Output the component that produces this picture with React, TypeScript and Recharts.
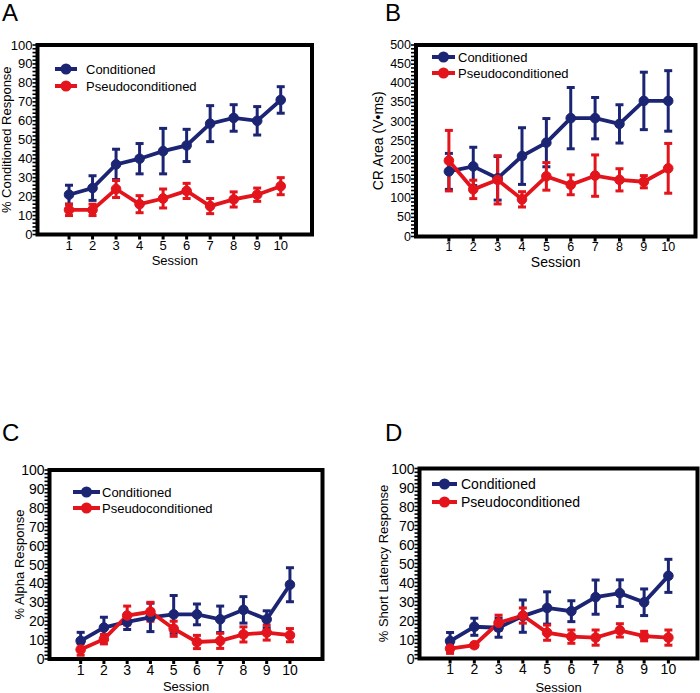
import React from "react";
import {
  LineChart,
  Line,
  XAxis,
  YAxis,
  ErrorBar,
  ReferenceArea,
  Legend,
} from "recharts";

const FONT = "'Liberation Sans', Arial, sans-serif";
const NAVY = "#1b2573";
const RED = "#e3141c";

const sessions = [1, 2, 3, 4, 5, 6, 7, 8, 9, 10];

// A - % conditioned response
const aConditioned = [21, 24.5, 37, 40, 44, 47, 58.5, 61.5, 60, 71];
const aConditionedErr = [5, 6.5, 8, 8, 12, 8.5, 9.5, 7, 7.5, 7];
const aPseudo = [13, 13, 24, 16, 19, 23, 15, 18.5, 21, 25.5];
const aPseudoErr = [3, 3, 4.5, 4.5, 5, 4, 4, 4, 3.5, 4.5];

// B - CR area
const bConditioned = [170, 183, 152, 210, 245, 309, 309, 294, 354, 354];
const bConditionedErr = [47, 50, 57, 74, 63, 80, 54, 50, 75, 79];
const bPseudo = [198, 123, 148, 97, 157, 135, 159, 148, 143, 178];
const bPseudoErr = [79, 24, 63, 20, 36, 26, 54, 29, 16, 65];

// C - % alpha response
const cConditioned = [9.6, 16.6, 19.6, 22, 23.6, 23.6, 21, 26, 21, 39.3];
const cConditionedErr = [4.5, 5.5, 4, 7.5, 10, 5.5, 7, 7, 4.5, 9];
const cPseudo = [5, 10.5, 23, 25, 16, 9, 9.6, 13, 14, 12.6];
const cPseudoErr = [3, 2.5, 5, 5, 4, 3.5, 4, 4, 4, 3.5];

// D - % short latency response
const dConditioned = [9.2, 16.7, 16.2, 22.3, 26.6, 24.9, 32.3, 34.4, 29.6, 43.5];
const dConditionedErr = [4.5, 4.5, 5, 8.5, 8.5, 5.5, 9, 7, 7, 8.7];
const dPseudo = [5.2, 7, 18.8, 22.6, 13.6, 11.5, 11, 14.8, 11.8, 11];
const dPseudoErr = [2.5, 1, 4, 4, 4, 3.5, 4, 3.5, 2.5, 4];

const percentTicks = [0, 10, 20, 30, 40, 50, 60, 70, 80, 90, 100];
const areaTicks = [0, 50, 100, 150, 200, 250, 300, 350, 400, 450, 500];

// major ticks plus 4 minor ticks between each pair
const withMinor = (major: number[]) => {
  const out: number[] = [];
  for (let i = 0; i < major.length; i++) {
    out.push(major[i]);
    if (i < major.length - 1) {
      const step = (major[i + 1] - major[i]) / 5;
      for (let k = 1; k < 5; k++) out.push(major[i] + step * k);
    }
  }
  return out;
};

const buildData = (c: number[], ce: number[], p: number[], pe: number[]) =>
  sessions.map((s, i) => ({ session: s, cond: c[i], condErr: ce[i], pseudo: p[i], pseudoErr: pe[i] }));

const YTick = (props: any) => {
  const { x, y, payload, majors, fontSize } = props;
  const isMajor = majors.includes(payload.value);
  return (
    <g>
      <line x1={x - 5} x2={x} y1={y} y2={y} stroke="#000" strokeWidth={1.6} />
      {isMajor && (
        <text x={x - 5} y={y} textAnchor="end" dominantBaseline="central" fontSize={fontSize} fontFamily={FONT} fill="#000">
          {payload.value}
        </text>
      )}
    </g>
  );
};

type PanelProps = {
  letter: string;
  pos: { left: number; top: number; width: number; height: number };
  margin: { top: number; right: number; bottom: number; left: number };
  yWidth: number;
  xDomain: [number, number];
  majors: number[];
  yLabel: string;
  yLabelOffset: number;
  sessionOffset: number;
  tickFont: number;
  labelFont: number;
  legend: { left: number; top: number; iconW: number; textX: number; gap: number; font: number };
  data: any[];
};

const Panel = (p: PanelProps) => {
  const yMax = p.majors[p.majors.length - 1];
  const lg = p.legend;
  return (
    <div style={{ position: "absolute", left: p.pos.left, top: p.pos.top }}>
      <LineChart width={p.pos.width} height={p.pos.height} data={p.data} margin={p.margin}>
        <XAxis
          type="number"
          dataKey="session"
          domain={p.xDomain}
          allowDataOverflow
          ticks={sessions}
          interval={0}
          axisLine={false}
          tickLine={{ stroke: "#000", strokeWidth: 3 }}
          tickSize={5}
          tickMargin={1}
          height={30}
          tick={{ fill: "#000", fontSize: p.tickFont, fontFamily: FONT }}
          label={(lp: any) => {
            const vb = lp.viewBox;
            if (!vb) return null;
            return (
              <text x={vb.x + vb.width / 2} y={vb.y + p.sessionOffset} textAnchor="middle" fontSize={p.labelFont} fontFamily={FONT} fill="#000">
                Session
              </text>
            );
          }}
        />
        <YAxis
          type="number"
          domain={[0, yMax]}
          ticks={withMinor(p.majors)}
          interval={0}
          width={p.yWidth}
          axisLine={false}
          tickLine={false}
          tickSize={0}
          tickMargin={0}
          tick={<YTick majors={p.majors} fontSize={p.tickFont} />}
          label={(lp: any) => {
            const vb = lp.viewBox;
            if (!vb) return null;
            const cx = vb.x + vb.width - p.yLabelOffset;
            const cy = vb.y + vb.height / 2;
            return (
              <text x={cx} y={cy} transform={`rotate(-90 ${cx} ${cy})`} textAnchor="middle" dominantBaseline="central" fontSize={p.labelFont} fontFamily={FONT} fill="#000">
                {p.yLabel}
              </text>
            );
          }}
        />
        <ReferenceArea
          x1={p.xDomain[0]}
          x2={p.xDomain[1]}
          y1={0}
          y2={yMax}
          fill="none"
          stroke="#000"
          strokeWidth={4}
          ifOverflow="visible"
        />
        <Line
          name="Conditioned"
          dataKey="cond"
          stroke={NAVY}
          strokeWidth={3.8}
          dot={{ r: 4.8, fill: NAVY, stroke: NAVY, strokeWidth: 1 }}
          activeDot={false}
          isAnimationActive={false}
        >
          <ErrorBar dataKey="condErr" direction="y" width={4} strokeWidth={3} stroke={NAVY} />
        </Line>
        <Line
          name="Pseudoconditioned"
          dataKey="pseudo"
          stroke={RED}
          strokeWidth={3.8}
          dot={{ r: 4.8, fill: RED, stroke: RED, strokeWidth: 1 }}
          activeDot={false}
          isAnimationActive={false}
        >
          <ErrorBar dataKey="pseudoErr" direction="y" width={4} strokeWidth={3} stroke={RED} />
        </Line>
        <Legend
          layout="vertical"
          align="center"
          verticalAlign="middle"
          wrapperStyle={{ left: lg.left, top: lg.top, width: 200, height: 40 }}
          content={(lp: any) => (
            <svg width={200} height={40}>
              {(lp.payload || []).map((item: any, i: number) => {
                const cy = 10 + i * lg.gap;
                return (
                  <g key={item.value}>
                    <line x1={0} x2={lg.iconW} y1={cy} y2={cy} stroke={item.color} strokeWidth={4} />
                    <circle cx={lg.iconW / 2} cy={cy} r={5.5} fill={item.color} />
                    <text x={lg.textX} y={cy} dominantBaseline="central" fontSize={lg.font} fontFamily={FONT} fill="#000">
                      {item.value}
                    </text>
                  </g>
                );
              })}
            </svg>
          )}
        />
      </LineChart>
      <div
        style={{
          position: "absolute",
          left: p.letter === "A" || p.letter === "C" ? 2 : 35,
          top: 1,
          fontSize: 24,
          lineHeight: "24px",
          fontFamily: FONT,
          color: "#000",
        }}
      >
        {p.letter}
      </div>
    </div>
  );
};

export default function App() {
  return (
    <div style={{ position: "absolute", left: 0, top: 0, width: 700, height: 693, background: "#fff" }}>
      <Panel
        letter="A"
        pos={{ left: 0, top: 0, width: 350, height: 280 }}
        margin={{ top: 45, right: 38, bottom: 15.5, left: 0 }}
        yWidth={37.5}
        xDomain={[-0.34, 11.33]}
        majors={percentTicks}
        yLabel="% Conditioned Response"
        yLabelOffset={31}
        sessionOffset={30}
        tickFont={13}
        labelFont={13}
        legend={{ left: 55, top: 59, iconW: 22, textX: 31, gap: 17, font: 13 }}
        data={buildData(aConditioned, aConditionedErr, aPseudo, aPseudoErr)}
      />
      <Panel
        letter="B"
        pos={{ left: 350, top: 0, width: 350, height: 280 }}
        margin={{ top: 45, right: 4.5, bottom: 13.5, left: 0 }}
        yWidth={66}
        xDomain={[-0.35, 11.12]}
        majors={areaTicks}
        yLabel="CR Area (V•ms)"
        yLabelOffset={38}
        sessionOffset={30}
        tickFont={12.5}
        labelFont={14}
        legend={{ left: 82, top: 47, iconW: 23, textX: 26, gap: 16, font: 13 }}
        data={buildData(bConditioned, bConditionedErr, bPseudo, bPseudoErr)}
      />
      <Panel
        letter="C"
        pos={{ left: 0, top: 420, width: 350, height: 273 }}
        margin={{ top: 50, right: 27.5, bottom: 4, left: 0 }}
        yWidth={49.5}
        xDomain={[-0.34, 11.4]}
        majors={percentTicks}
        yLabel="% Alpha Response"
        yLabelOffset={30.5}
        sessionOffset={32}
        tickFont={14}
        labelFont={13}
        legend={{ left: 73, top: 62, iconW: 27, textX: 29, gap: 16, font: 13 }}
        data={buildData(cConditioned, cConditionedErr, cPseudo, cPseudoErr)}
      />
      <Panel
        letter="D"
        pos={{ left: 350, top: 420, width: 350, height: 273 }}
        margin={{ top: 48.5, right: 2.5, bottom: 4.5, left: 0 }}
        yWidth={69.5}
        xDomain={[-0.26, 11.2]}
        majors={percentTicks}
        yLabel="% Short Latency Response"
        yLabelOffset={36}
        sessionOffset={33}
        tickFont={14}
        labelFont={13}
        legend={{ left: 82, top: 54, iconW: 25, textX: 29, gap: 18, font: 14 }}
        data={buildData(dConditioned, dConditionedErr, dPseudo, dPseudoErr)}
      />
    </div>
  );
}
